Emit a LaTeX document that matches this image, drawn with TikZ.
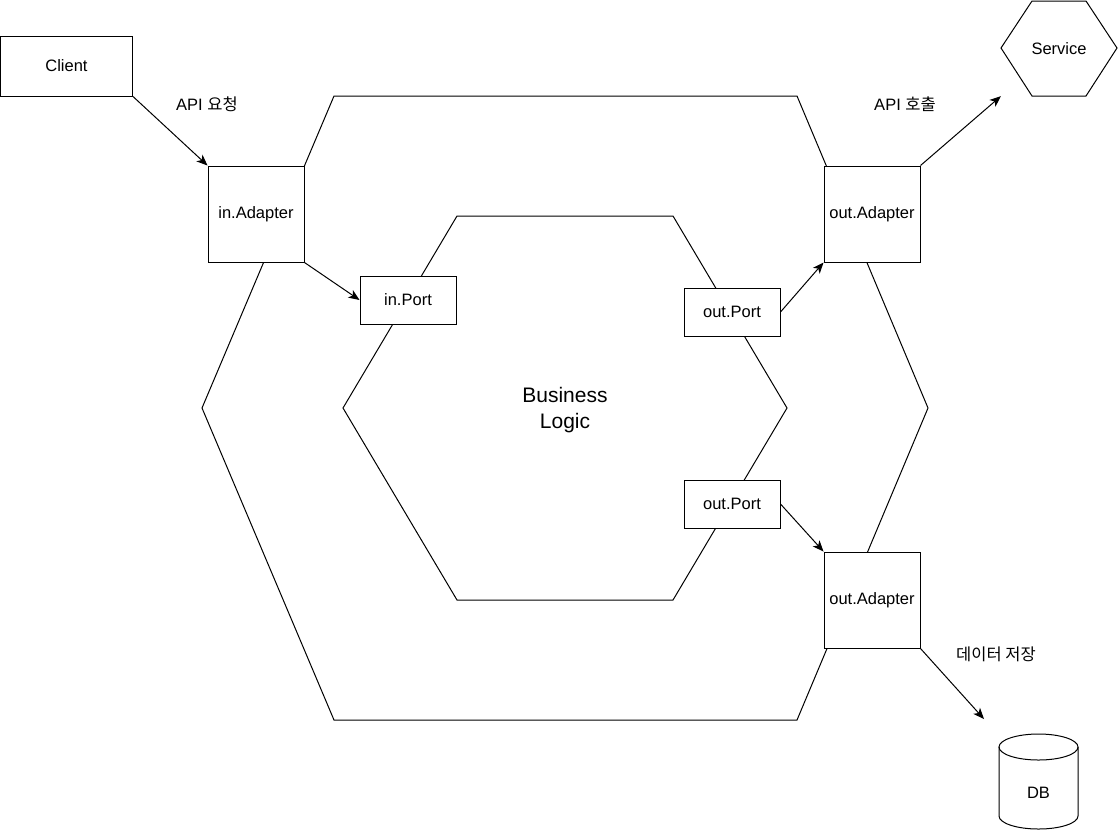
\documentclass[tikz,border=0pt]{standalone}
\usepackage{fontspec}
\setmainfont{Liberation Sans}
\newfontfamily\kr{Noto Sans CJK KR}
\usetikzlibrary{arrows.meta}
\begin{document}
\begin{tikzpicture}[x=1pt,y=-1pt,
  box/.style={draw, fill=white, line width=1pt, font=\fontsize{16.5}{19}\selectfont, inner sep=0pt},
  conn/.style={line width=1pt, -{Stealth[length=11pt,width=9pt,inset=3pt]}},
  lbl/.style={font=\fontsize{16.5}{19}\selectfont, inner sep=0pt},
  hex/.style={draw, line width=1pt}]
\useasboundingbox (0,0) rectangle (1118,831);

% outer and inner hexagons
\draw[hex] (334,96) -- (797,96) -- (928,408) -- (797,720) -- (334,720) -- (202,408) -- cycle;
\draw[hex] (457,216) -- (673,216) -- (787,408) -- (673,600) -- (457,600) -- (343,408) -- cycle;
\node[font=\fontsize{21}{26}\selectfont, align=center] (logic) at (565,410) {Business\\Logic};

% service hexagon
\draw[hex] (1001,48) -- (1032,1) -- (1086,1) -- (1117,48) -- (1086,96) -- (1032,96) -- cycle;
\node[minimum width=116pt, minimum height=95pt, inner sep=0pt, font=\fontsize{16.5}{19}\selectfont] (service) at (1059,48.5) {Service};

% boxes
\node[box, minimum width=132pt, minimum height=60pt] (client) at (66.5,66) {Client};
\node[box, minimum width=96pt, minimum height=96pt] (inad) at (256,214) {in.Adapter};
\node[box, minimum width=96pt, minimum height=48pt] (inport) at (408,300) {in.Port};
\node[box, minimum width=96pt, minimum height=48pt] (outport1) at (732,312) {out.Port};
\node[box, minimum width=96pt, minimum height=48pt] (outport2) at (732,504) {out.Port};
\node[box, minimum width=96pt, minimum height=96pt] (outad1) at (872,214) {out.Adapter};
\node[box, minimum width=96pt, minimum height=96pt] (outad2) at (872,600) {out.Adapter};

% DB cylinder
\draw[hex, fill=white] (999,747) -- (999,816) arc[start angle=180, end angle=360, x radius=39.5pt, y radius=13pt] -- (1078,747);
\draw[hex] (1038.5,747) ellipse [x radius=39.5pt, y radius=13pt];
\node[font=\fontsize{16.5}{19}\selectfont, inner sep=0pt] (db) at (1038.5,793) {DB};
\coordinate (dbin) at (984,719);

% connectors
\draw[conn] (client.south east) -- (inad.north west);
\draw[conn] (inad.south east) -- (inport.west);
\draw[conn] (outport1.east) -- (outad1.south west);
\draw[conn] (outad1.north east) -- (service.south west);
\draw[conn] (outport2.east) -- (outad2.north west);
\draw[conn] (outad2.south east) -- (dbin);

% labels
\node[lbl] (l1) at (207,104) {API {\kr 요청}};
\node[lbl] (l2) at (905,104) {API {\kr 호출}};
\node[lbl] (l3) at (996,654) {\kr 데이터 저장};
\end{tikzpicture}
\end{document}
